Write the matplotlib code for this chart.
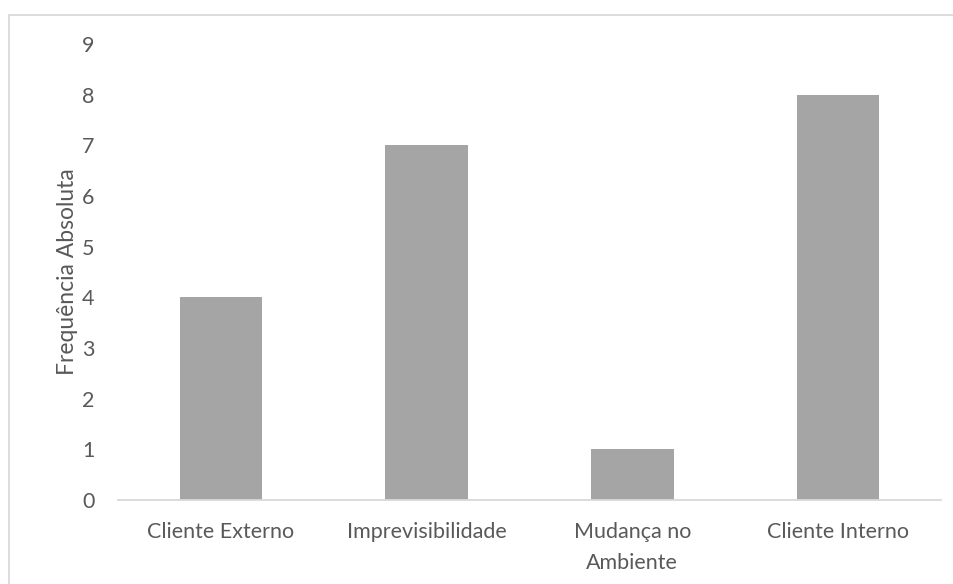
import matplotlib
matplotlib.use("Agg")
import matplotlib.pyplot as plt
from matplotlib.patches import Rectangle

categories = ["Cliente Externo", "Imprevisibilidade", "Mudança no\nAmbiente", "Cliente Interno"]
values = [4, 7, 1, 8]
yticks = [0, 1, 2, 3, 4, 5, 6, 7, 8, 9]
ylabel = "Frequência Absoluta"

W, H = 954, 584
plt.rcParams["font.family"] = ["Lato", "DejaVu Sans"]
text_color = "#595959"
fs = 15.5

fig = plt.figure(figsize=(W / 100, H / 100), dpi=100)
fig.patch.set_facecolor("white")

# chart area frame (top and left edges visible)
fig.patches.append(Rectangle((9 / W, -0.05), 1.1, 1 - 15 / H + 0.05,
                             transform=fig.transFigure, fill=False,
                             edgecolor="#D9D9D9", linewidth=1.3))

ax = fig.add_axes([118 / W, 1 - 500 / H, (941 - 118) / W, (500 - 44) / H])
x = range(len(categories))
ax.bar(x, values, width=0.4, color="#A5A5A5")
ax.set_xlim(-0.5, len(categories) - 0.5)
ax.set_ylim(0, 9)
ax.set_yticks(yticks)
ax.set_xticks(list(x))
ax.set_xticklabels(categories, linespacing=1.65)

for s in ["top", "right", "left"]:
    ax.spines[s].set_visible(False)
ax.spines["bottom"].set_color("#D9D9D9")
ax.spines["bottom"].set_linewidth(1.3)
ax.tick_params(axis="both", length=0, colors=text_color, labelsize=fs)
ax.tick_params(axis="y", pad=17)
ax.tick_params(axis="x", pad=16)
ax.set_ylabel(ylabel, fontsize=16.5, color=text_color, labelpad=3)

fig.savefig("out.png", dpi=100, facecolor="white")
